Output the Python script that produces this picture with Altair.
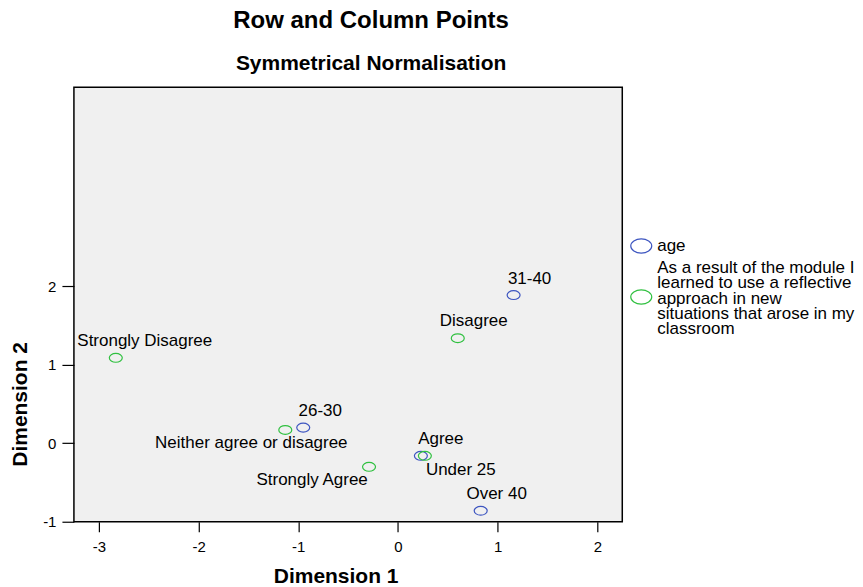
import altair as alt
import pandas as pd

# Data
labels = ["Under 25", "26-30", "31-40", "Over 40",
          "Strongly Agree", "Agree", "Neither agree or disagree", "Disagree", "Strongly Disagree"]
dim1 = [0.23, -0.95, 1.16, 0.83, -0.29, 0.27, -1.13, 0.60, -2.83]
dim2 = [-0.16, 0.20, 1.89, -0.86, -0.30, -0.16, 0.17, 1.34, 1.09]
AGE = "age"
Q = "As a result of the module I learned to use a reflective approach in new situations that arose in my classroom"
groups = [AGE, AGE, AGE, AGE, Q, Q, Q, Q, Q]
legend_text = ["age",
               "As a result of the module I\nlearned to use a reflective\napproach in new\nsituations that arose in my\nclassroom"]

x_ticks = [-3, -2, -1, 0, 1, 2]
y_ticks = [-1, 0, 1, 2]

# label offsets (style, pixels): dx, dy relative to point
label_offsets = {
    "Under 25": (40, 14),
    "26-30": (17, -17),
    "31-40": (16, -16),
    "Over 40": (16, -17),
    "Strongly Agree": (-57, 13),
    "Agree": (16, -17),
    "Neither agree or disagree": (-34, 13),
    "Disagree": (16, -17),
    "Strongly Disagree": (29, -17),
}

df = pd.DataFrame({"label": labels, "d1": dim1, "d2": dim2, "group": groups})
legend_df = pd.DataFrame({"group": [AGE, Q], "text": legend_text})

FONT = "Liberation Sans"
ELLIPSE = "M-1,0 A1,0.68 0 1,1 1,0 A1,0.68 0 1,1 -1,0 Z"
COLORS = alt.Scale(domain=[AGE, Q], range=["#3D55C0", "#30C040"])

xscale = alt.Scale(domain=[-3.25, 2.25], nice=False, zero=False)
yscale = alt.Scale(domain=[-1.0, 4.54], nice=False, zero=False)

points = alt.Chart(df).mark_point(shape=ELLIPSE, size=169, filled=False, strokeWidth=1.2, opacity=1).encode(
    x=alt.X("d1:Q", scale=xscale, title="Dimension 1",
            axis=alt.Axis(values=x_ticks, grid=False, labelExpr="'' + datum.value", titleX=262)),
    y=alt.Y("d2:Q", scale=yscale, title="Dimension 2",
            axis=alt.Axis(values=y_ticks, grid=False, labelExpr="'' + datum.value", titleY=317)),
    color=alt.Color("group:N", scale=COLORS, legend=None),
)

layers = [points]
for lab in labels:
    dx, dy = label_offsets[lab]
    layers.append(
        alt.Chart(df).transform_filter(alt.datum.label == lab).mark_text(
            dx=dx, dy=dy, fontSize=17, font=FONT, color="black", align="center", baseline="middle"
        ).encode(x=alt.X("d1:Q", scale=xscale), y=alt.Y("d2:Q", scale=yscale), text="label:N")
    )

# Manual legend (to the right of the plot area)
legend_rows = [(AGE, 159, 159), (Q, 210, 181)]
for grp, sym_y, txt_y in legend_rows:
    base = alt.Chart(legend_df).transform_filter(alt.datum.group == grp)
    layers.append(base.mark_point(shape=ELLIPSE, size=441, filled=False, strokeWidth=1.2, opacity=1).encode(
        x=alt.value(568), y=alt.value(sym_y), color=alt.Color("group:N", scale=COLORS, legend=None)))
    layers.append(base.mark_text(align="left", baseline="middle", fontSize=17, font=FONT, color="black",
                                 lineBreak="\n", lineHeight=15.3).encode(
        x=alt.value(584), y=alt.value(txt_y), text="text:N"))

chart = alt.layer(*layers).properties(
    width=549, height=435,
    padding={"left": 1, "top": 1, "right": 0, "bottom": 0},
    title=alt.TitleParams(text="Row and Column Points", subtitle="Symmetrical Normalisation",
                          font=FONT, fontSize=24, fontWeight="bold", subtitleFont=FONT,
                          subtitleFontSize=21, subtitleFontWeight="bold", subtitleColor="black",
                          subtitlePadding=20, offset=13, anchor="middle", dx=23, color="black"),
).configure_view(fill="#F0F0F0", stroke="black", strokeWidth=1.5).configure_axis(
    labelFont=FONT, labelFontSize=15, labelColor="black", titleFont=FONT, titleFontSize=21,
    titleFontWeight="bold", titleColor="black", domain=False, tickColor="black",
    tickSize=10, labelPadding=6, tickWidth=1.2
).configure_axisY(titlePadding=12, tickSize=12).configure_axisX(titlePadding=11, labelPadding=8)

chart.save("out.html", embed_options={"renderer": "svg", "actions": False})
